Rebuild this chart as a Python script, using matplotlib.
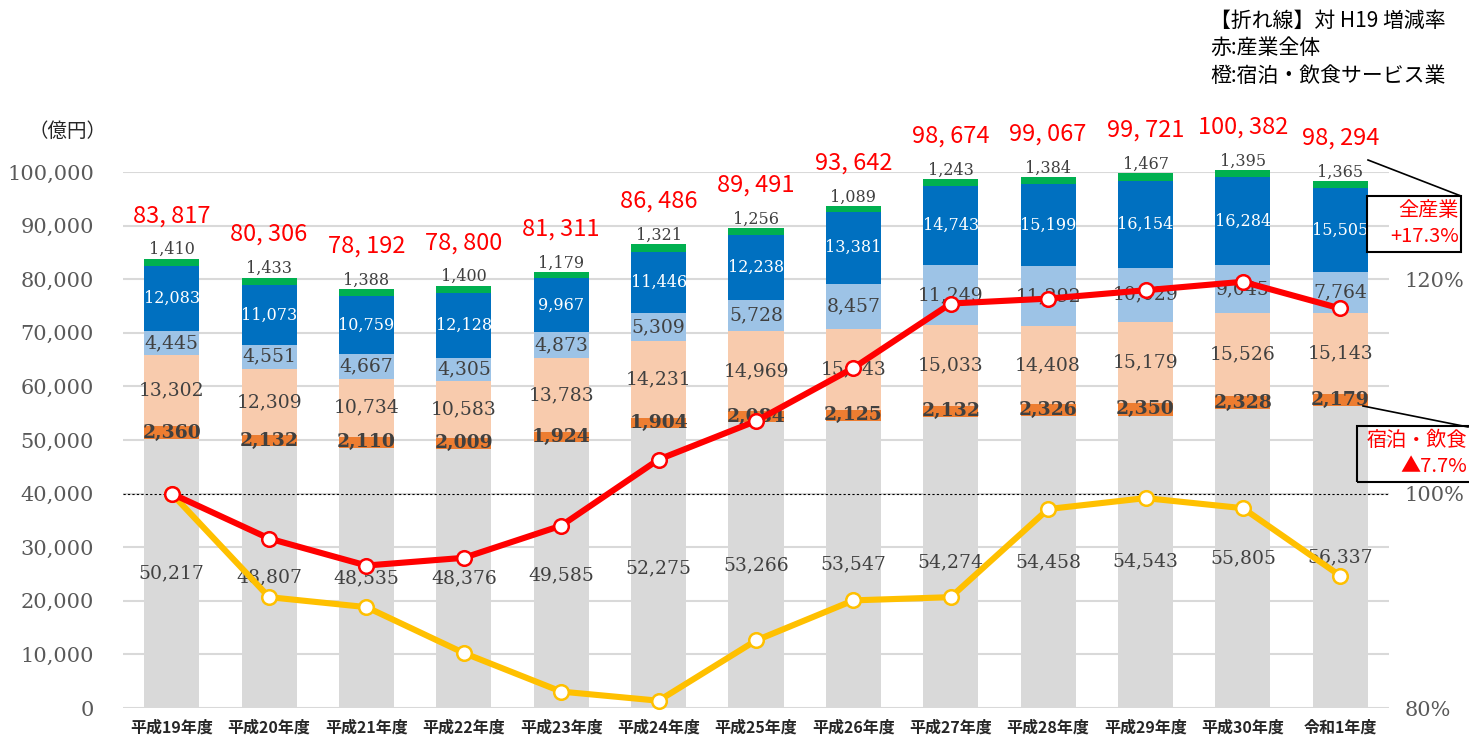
import matplotlib
matplotlib.use("Agg")
import matplotlib.pyplot as plt
from matplotlib.lines import Line2D
from matplotlib.patches import Rectangle

categories = ["平成19年度", "平成20年度", "平成21年度", "平成22年度", "平成23年度", "平成24年度",
              "平成25年度", "平成26年度", "平成27年度", "平成28年度", "平成29年度", "平成30年度", "令和1年度"]
seg_gray = [50217, 48807, 48535, 48376, 49585, 52275, 53266, 53547, 54274, 54458, 54543, 55805, 56337]
seg_accom = [2360, 2132, 2110, 2009, 1924, 1904, 2084, 2125, 2132, 2326, 2350, 2328, 2179]
seg_peach = [13302, 12309, 10734, 10583, 13783, 14231, 14969, 15043, 15033, 14408, 15179, 15526, 15143]
seg_lblue = [4445, 4551, 4667, 4305, 4873, 5309, 5728, 8457, 11249, 11292, 10029, 9045, 7764]
seg_dblue = [12083, 11073, 10759, 12128, 9967, 11446, 12238, 13381, 14743, 15199, 16154, 16284, 15505]
seg_green = [1410, 1433, 1388, 1400, 1179, 1321, 1256, 1089, 1243, 1384, 1467, 1395, 1365]
totals = [83817, 80306, 78192, 78800, 81311, 86486, 89491, 93642, 98674, 99067, 99721, 100382, 98294]
rate_all = [100.0, 95.81, 93.29, 94.01, 97.01, 103.18, 106.77, 111.72, 117.73, 118.19, 118.97, 119.76, 117.27]
rate_accom = [100.0, 90.34, 89.41, 85.13, 81.53, 80.68, 86.3, 90.04, 90.34, 98.56, 99.58, 98.64, 92.33]
yticks_left = [0, 10000, 20000, 30000, 40000, 50000, 60000, 70000, 80000, 90000, 100000]
yticks_right = [80, 100, 120]

W, H = 1469, 736
fig = plt.figure(figsize=(W / 100, H / 100), dpi=100)
ax = fig.add_axes([123 / W, 1 - 708 / H, (1389 - 123) / W, (708 - 172) / H])

JP = ["Noto Sans CJK JP", "DejaVu Sans"]
SERIF = "DejaVu Serif"
TXT = "#404040"
AX_TXT = "#595959"

x = list(range(len(categories)))
# (values, colour, label colour, weight, label size)
segments = [
    (seg_gray, "#D9D9D9", TXT, "normal", 13.5),
    (seg_accom, "#ED7D31", TXT, "bold", 13.5),
    (seg_peach, "#F8CBAD", TXT, "normal", 13.5),
    (seg_lblue, "#9DC3E6", TXT, "normal", 13.5),
    (seg_dblue, "#0070C0", "white", "normal", 11.5),
    (seg_green, "#00B050", TXT, "normal", 11.5),
]

bottoms = [0] * len(x)
for si, (vals, col, tcol, tw, fs) in enumerate(segments):
    ax.bar(x, vals, width=0.565, bottom=bottoms, color=col, zorder=2, clip_on=False)
    for i, v in enumerate(vals):
        lab = f"{v:,}"
        if si == 5:
            ax.annotate(lab, (i, bottoms[i] + v), xytext=(0, 9), textcoords="offset pixels",
                        ha="center", va="center", fontsize=fs, family=SERIF, color=tcol, zorder=4,
                        annotation_clip=False)
        else:
            ax.text(i, bottoms[i] + v / 2, lab, ha="center", va="center", fontsize=fs, family=SERIF,
                    color=tcol, fontweight=tw, zorder=4)
    bottoms = [b + v for b, v in zip(bottoms, vals)]

for i, t in enumerate(totals):
    ax.annotate(f"{t:,}".replace(",", ", "), (i, t), xytext=(0, 43), textcoords="offset pixels",
                ha="center", va="center", fontsize=17, family=JP, color="#FF0000",
                annotation_clip=False)

ax.set_xlim(-0.5, 12.5)
ax.set_ylim(0, 100000)
ax.set_yticks(yticks_left)
ax.set_yticklabels([f"{v:,}" for v in yticks_left], family=SERIF, fontsize=15, color=AX_TXT)
ax.set_xticks(x)
ax.set_xticklabels(categories, family=JP, fontsize=11.5, fontweight="bold", color="#262626")
ax.tick_params(length=0)
ax.tick_params(axis="y", pad=21)
ax.tick_params(axis="x", pad=8)
ax.grid(axis="y", color="#D9D9D9", lw=1.5, zorder=0)
ax.set_axisbelow(True)
for s in ax.spines.values():
    s.set_visible(False)
ax.axhline(40000, color="black", lw=0.8, ls=(0, (2, 2)), zorder=3)

ax2 = ax.twinx()
ax2.set_ylim(80, 130)
ax2.set_yticks(yticks_right)
ax2.set_yticklabels([f"{v}%" for v in yticks_right], family=SERIF, fontsize=15, color=AX_TXT)
ax2.tick_params(length=0, pad=11)
for s in ax2.spines.values():
    s.set_visible(False)
ax2.plot(x, rate_accom, color="#FFC000", lw=4.4, marker="o", ms=10.5, mfc="white",
         mec="#FFC000", mew=1.8, zorder=5, clip_on=False)
ax2.plot(x, rate_all, color="#FF0000", lw=4.4, marker="o", ms=10.5, mfc="white",
         mec="#FF0000", mew=1.8, zorder=6, clip_on=False)

# unit label
fig.text(28 / W, 1 - 131 / H, "（億円）", family=JP, fontsize=14, color="#262626",
         ha="left", va="center")

# legend text
fig.text(1210 / W, 1 - 21 / H, "【折れ線】対 H19 増減率", family=JP, fontsize=15,
         color="black", ha="left", va="center")
fig.text(1210 / W, 1 - 48 / H, "赤:産業全体", family=JP, fontsize=15,
         color="black", ha="left", va="center")
fig.text(1210 / W, 1 - 76 / H, "橙:宿泊・飲食サービス業", family=JP, fontsize=15,
         color="black", ha="left", va="center")

def px(xp, yp):
    return xp / W, 1 - yp / H

# annotation box 1
fig.add_artist(Rectangle(px(1367, 252), 94 / W, 56 / H, transform=fig.transFigure,
                         fill=False, ec="black", lw=1.5))
fig.add_artist(Line2D([1368 / W, 1461 / W], [1 - 160 / H, 1 - 196 / H], color="black", lw=1.2,
                      transform=fig.transFigure))
fig.text(*px(1459, 211), "全産業", family=JP, fontsize=14.5, color="#FF0000", ha="right", va="center")
fig.text(*px(1459, 237), "+17.3%", family=JP, fontsize=14.5, color="#FF0000", ha="right", va="center")

# annotation box 2
fig.add_artist(Rectangle(px(1357, 482), 120 / W, 56 / H, transform=fig.transFigure,
                         fill=False, ec="black", lw=1.5))
fig.add_artist(Line2D([1363 / W, 1468 / W], [1 - 406 / H, 1 - 427 / H], color="black", lw=1.2,
                      transform=fig.transFigure))
fig.text(*px(1467, 441), "宿泊・飲食", family=JP, fontsize=14.5, color="#FF0000", ha="right", va="center")
fig.text(*px(1467, 467), "▲7.7%", family=JP, fontsize=14.5, color="#FF0000", ha="right", va="center")

fig.savefig("out.png", dpi=100)
